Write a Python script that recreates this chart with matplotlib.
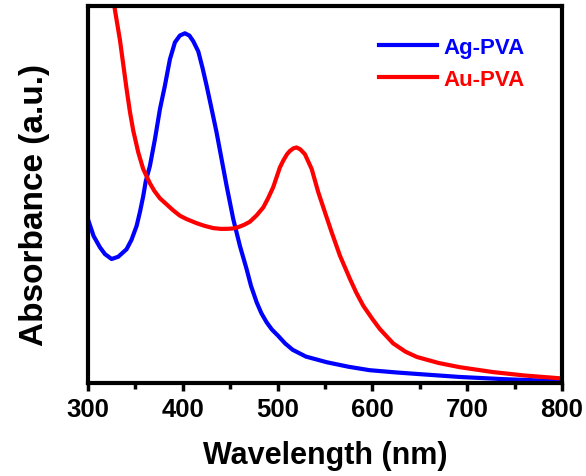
import matplotlib
matplotlib.use("Agg")
import matplotlib.pyplot as plt
from matplotlib.ticker import MultipleLocator

plt.rcParams['font.family'] = ['Liberation Sans', 'DejaVu Sans']
plt.rcParams['font.weight'] = 'bold'

# UV-Vis absorbance spectra (arbitrary units)
ag_wl = [300, 306, 312.7, 318, 325, 332, 340.8, 346, 351.4, 355, 358.3, 361, 365.4, 370.7, 376, 381.2,
         386.5, 391.8, 397, 402.3, 407, 411.1, 416.4, 421, 425.2, 430.5, 435.7, 441, 446.3, 453.3,
         460.3, 467.4, 472, 478, 483, 488.5, 494, 500.7, 508, 516, 530, 552, 575, 597, 625, 647,
         692, 740, 795, 800]
ag_abs = [0.435, 0.39, 0.360, 0.342, 0.329, 0.335, 0.355, 0.38, 0.417, 0.455, 0.495, 0.535, 0.576,
          0.647, 0.727, 0.789, 0.859, 0.904, 0.922, 0.928, 0.922, 0.907, 0.880, 0.835, 0.789, 0.727,
          0.665, 0.594, 0.523, 0.435, 0.364, 0.302, 0.258, 0.214, 0.185, 0.161, 0.142, 0.125, 0.105,
          0.088, 0.070, 0.055, 0.043, 0.034, 0.028, 0.024, 0.016, 0.010, 0.005, 0.005]

au_wl = [300, 310, 320, 328.5, 333.8, 337.3, 340.8, 344.3, 347.8, 353.1, 358.3, 362, 365.4, 370, 376,
         383, 390, 397, 404, 414.7, 423, 432.2, 440, 446.3, 453, 459, 465, 470.9, 478, 485, 490,
         495.5, 502.5, 506, 510, 513.1, 517, 520.1, 524, 528.9, 532, 536, 543, 550, 557.1, 565.8,
         576.4, 583, 590.4, 600, 608, 622, 635, 647, 670, 692, 727, 760, 795, 800]
au_abs = [1.60, 1.35, 1.15, 0.99, 0.91, 0.845, 0.78, 0.72, 0.67, 0.612, 0.568, 0.548, 0.530, 0.51,
          0.490, 0.474, 0.458, 0.444, 0.435, 0.424, 0.417, 0.411, 0.409, 0.409, 0.410, 0.414, 0.420,
          0.428, 0.445, 0.466, 0.49, 0.520, 0.572, 0.590, 0.607, 0.616, 0.623, 0.625, 0.620, 0.607,
          0.590, 0.568, 0.506, 0.453, 0.400, 0.338, 0.276, 0.240, 0.205, 0.170, 0.143, 0.105, 0.083,
          0.069, 0.053, 0.042, 0.029, 0.020, 0.013, 0.012]

series_names = ["Ag-PVA", "Au-PVA"]
series_colors = ["#0000ff", "#ff0000"]

fig = plt.figure(figsize=(5.86, 4.77), dpi=100)
ax = fig.add_axes([0.150, 0.195, 0.809, 0.790])

ax.plot(ag_wl, ag_abs, color=series_colors[0], lw=3, label=series_names[0],
        solid_joinstyle='round')
ax.plot(au_wl, au_abs, color=series_colors[1], lw=3, label=series_names[1],
        solid_joinstyle='round')

ax.set_xlim(300, 800)
ax.set_ylim(0, 1.0)
ax.set_yticks([])
ax.xaxis.set_major_locator(MultipleLocator(100))
ax.xaxis.set_minor_locator(MultipleLocator(50))
ax.tick_params(axis='x', which='major', direction='out', length=6, width=2.5, labelsize=18.5, pad=4)
ax.tick_params(axis='x', which='minor', direction='out', length=4, width=2.5)
for lbl in ax.get_xticklabels():
    lbl.set_fontweight('bold')
for s in ax.spines.values():
    s.set_linewidth(3)

ax.set_xlabel("Wavelength (nm)", fontsize=22, fontweight='bold', labelpad=14)
ax.set_ylabel("Absorbance (a.u.)", fontsize=24, fontweight='bold', va='center')
ax.yaxis.set_label_coords(-0.112, 0.475)

leg = ax.legend(loc='upper right', bbox_to_anchor=(0.964, 0.972), frameon=False,
                handlelength=2.6, handletextpad=0.3, labelspacing=0.5,
                labelcolor='linecolor', prop={'weight': 'bold', 'size': 16})

fig.savefig("out.png", dpi=100)
